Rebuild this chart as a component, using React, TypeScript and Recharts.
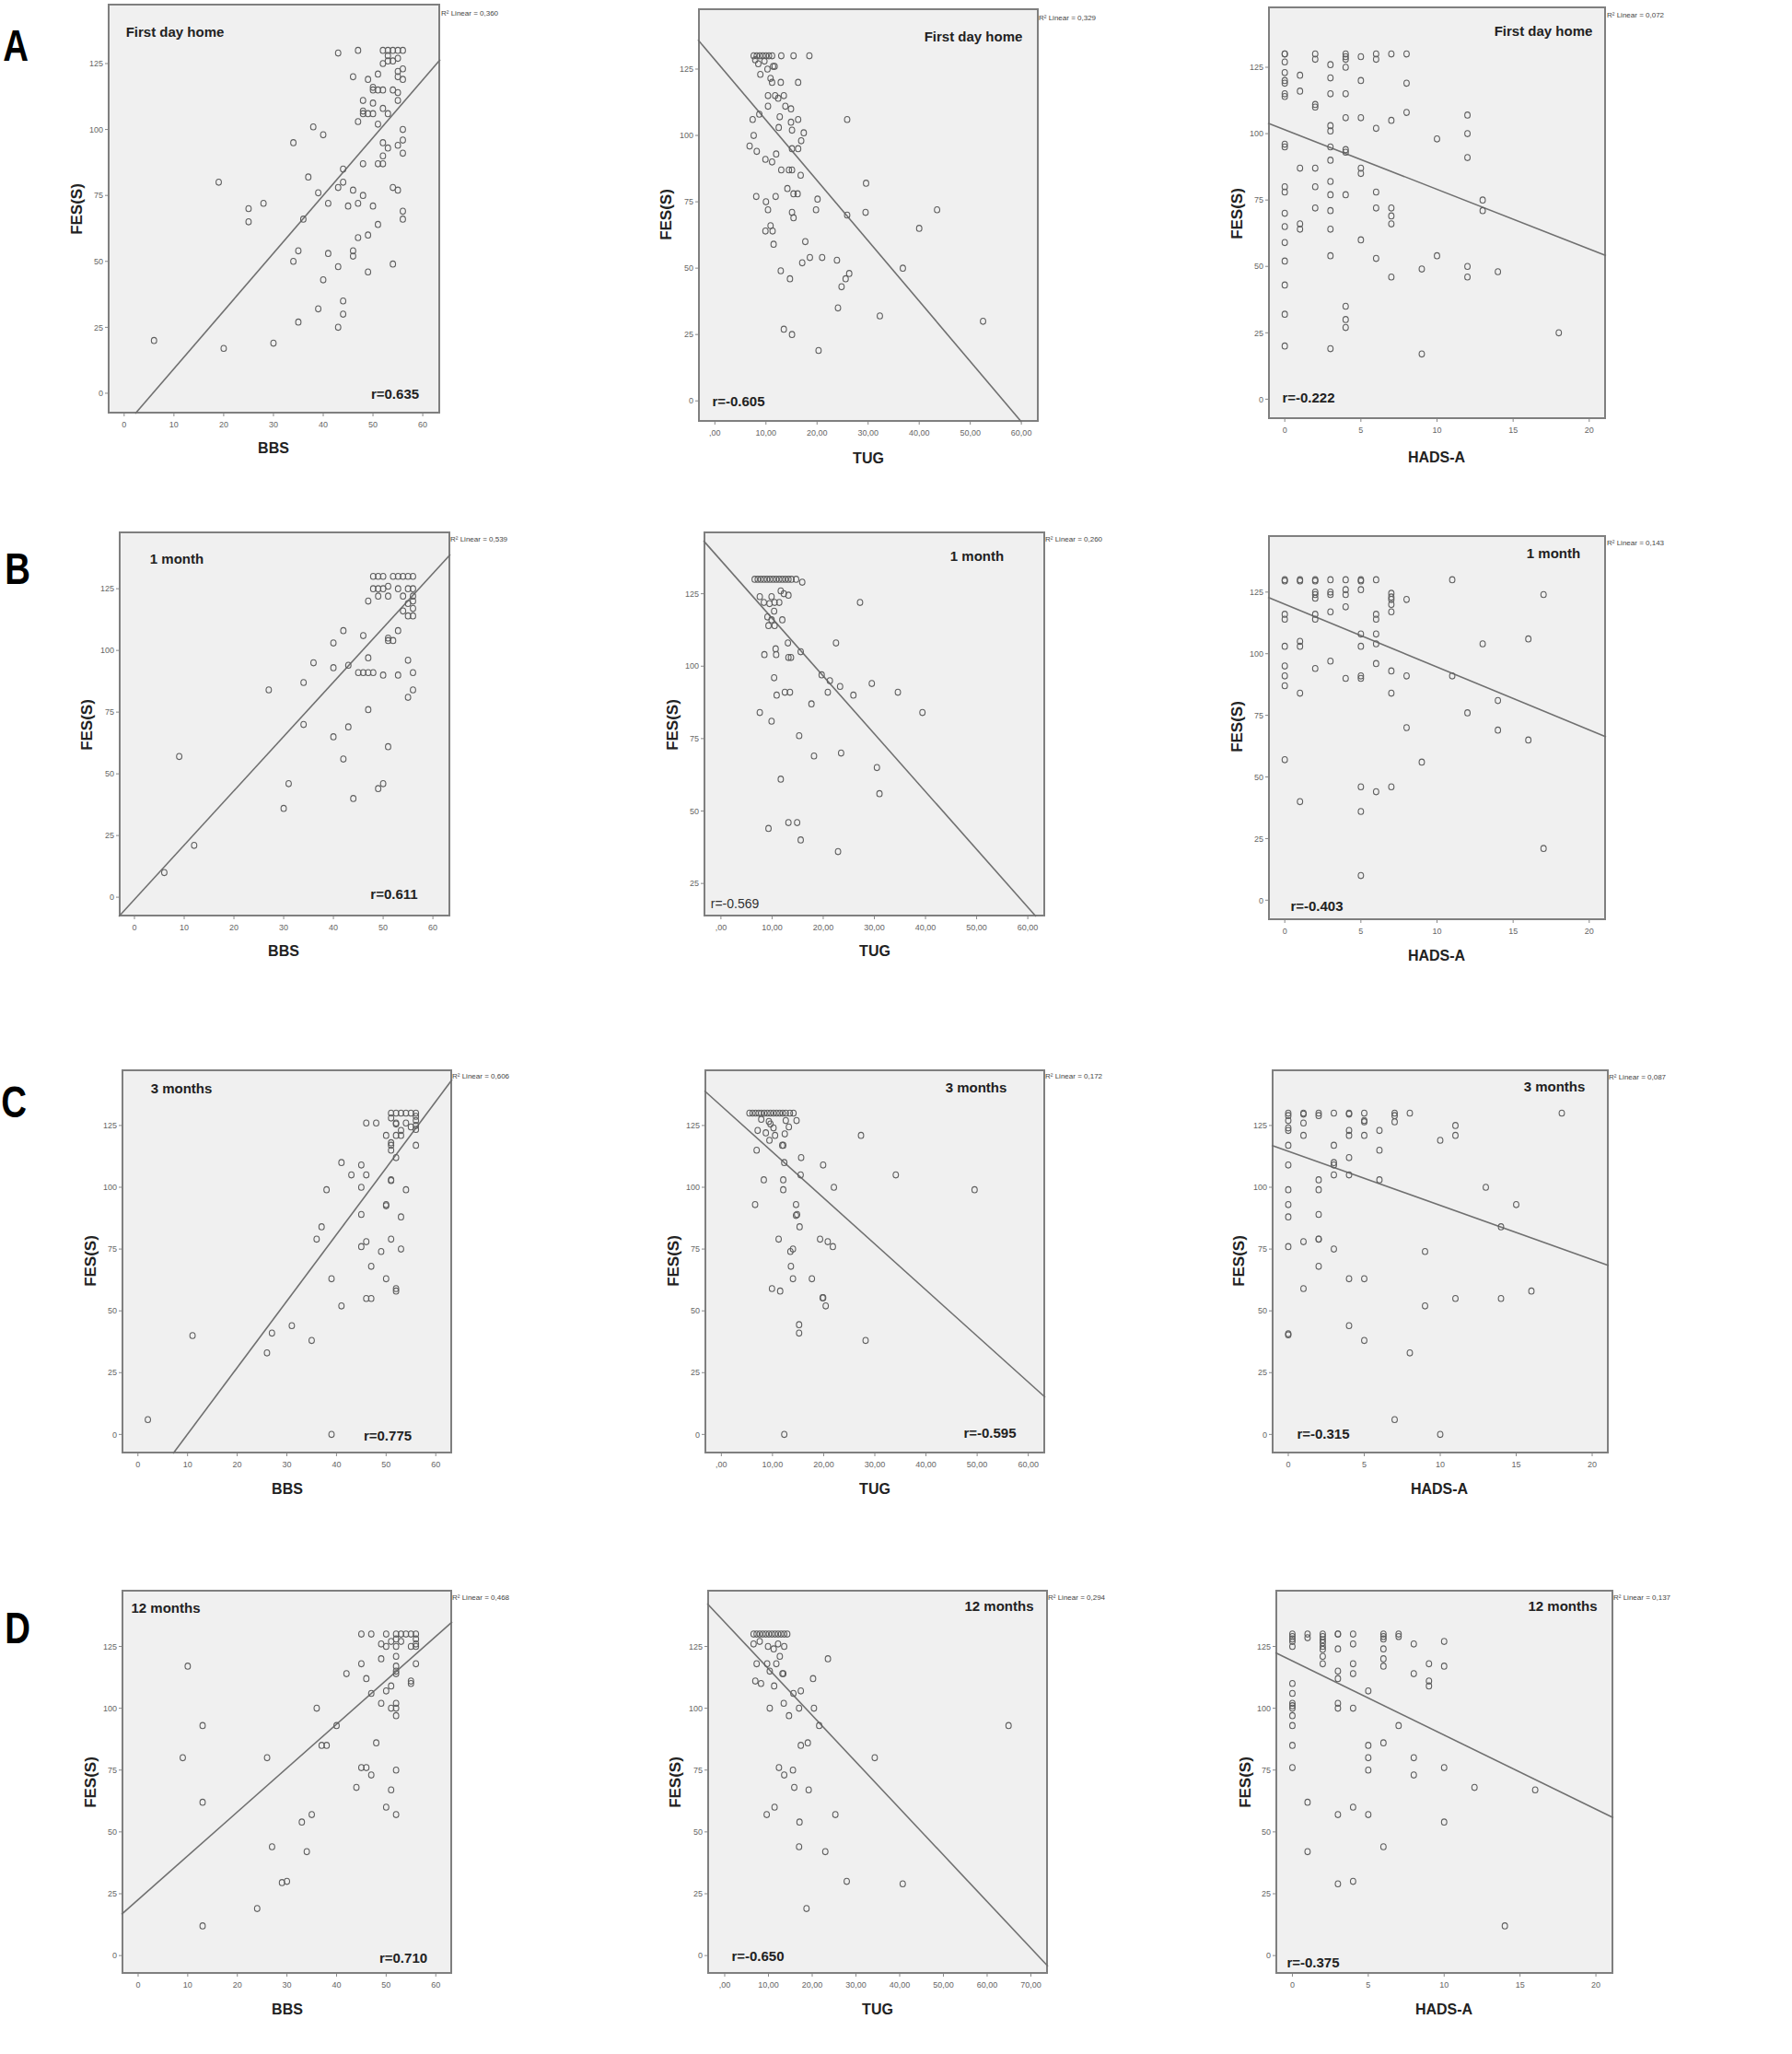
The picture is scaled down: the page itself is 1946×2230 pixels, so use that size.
import React from 'react'
import { ScatterChart, Scatter, XAxis, YAxis, ReferenceLine } from 'recharts'

type Pt = [number, number]
// points stacked at one integer score (HADS-A is an integer scale)
const col = (x: number, ys: number[]): Pt[] => ys.map(y => [x, y] as Pt)

const timepoints = ['First day home', '1 month', '3 months', '12 months']
const rowLetters = ['A', 'B', 'C', 'D']
const measures = ['BBS', 'TUG', 'HADS-A']

const rValues = [
  'r=0.635', 'r=-0.605', 'r=-0.222',
  'r=0.611', 'r=-0.569', 'r=-0.403',
  'r=0.775', 'r=-0.595', 'r=-0.315',
  'r=0.710', 'r=-0.650', 'r=-0.375',
]
const r2Values = [
  '0,360', '0,329', '0,072',
  '0,539', '0,260', '0,143',
  '0,606', '0,172', '0,087',
  '0,468', '0,294', '0,137',
]
// fitted line FES(S) = a + b * x
const fitIntercept = [-12.6, 128.5, 101.5, -0.9, 136.5, 120.1, -26.8, 132.9, 114.6, 22.6, 134.8, 119.1]
const fitSlope = [2.19, -2.273, -2.248, 2.201, -1.995, -2.55, 2.692, -1.862, -2.196, 1.774, -1.883, -2.995]

const fesTicks = [0, 25, 50, 75, 100, 125]
const fesTicksNoZero = [25, 50, 75, 100, 125]
const bbsTicks = [0, 10, 20, 30, 40, 50, 60]
const tugTicks = [0, 10, 20, 30, 40, 50, 60]
const tugTicksLong = [0, 10, 20, 30, 40, 50, 60, 70]
const hadsTicks = [0, 5, 10, 15, 20]

const bbsFirstDay: Pt[] = [
  [6, 20], [19, 80], [20, 17], [25, 70], [25, 65], [28, 72], [30, 19], [34, 95], [34, 50], [35, 54], [35, 27],
  [36, 66], [37, 82], [38, 101], [39, 76], [39, 32], [40, 98], [40, 43], [41, 72], [41, 53], [43, 129], [43, 78],
  [43, 48], [43, 25], [44, 85], [44, 80], [44, 35], [44, 30], [45, 71], [46, 120], [46, 77], [46, 54], [46, 52],
  [47, 130], [47, 103], [47, 72], [47, 59], [48, 111], [48, 107], [48, 106], [48, 87], [48, 75], [49, 119],
  [49, 106], [49, 60], [49, 46], [50, 116], [50, 115], [50, 110], [50, 106], [50, 71], [51, 121], [51, 115],
  [51, 102], [51, 87], [51, 64], [52, 130], [52, 125], [52, 115], [52, 108], [52, 95], [52, 90], [52, 87],
  [53, 130], [53, 128], [53, 126], [53, 106], [53, 93], [54, 130], [54, 126], [54, 115], [54, 78], [54, 49],
  [55, 130], [55, 127], [55, 122], [55, 120], [55, 114], [55, 111], [55, 94], [55, 77], [56, 130], [56, 123],
  [56, 119], [56, 100], [56, 96], [56, 91], [56, 69], [56, 66],
]
const tugFirstDay: Pt[] = [
  [7.6, 130], [8.2, 130], [8.8, 130], [9.4, 130], [10, 130], [10.6, 130], [11.2, 130], [13, 130], [15.4, 130],
  [18.5, 130], [7.9, 128.5], [8.5, 127], [9.7, 128], [11.4, 126], [11.7, 126], [8.9, 123], [10.3, 125],
  [10.9, 121.5], [11.2, 120], [12.9, 120], [16.3, 120], [10.4, 115], [11.8, 115], [13.5, 115], [12.4, 114],
  [10.4, 111], [13.8, 111], [14.9, 110], [8.7, 108], [7.4, 106], [12.7, 107], [16.3, 106], [25.9, 106],
  [14.9, 105], [12.5, 103], [15.1, 102], [17.4, 101], [7.6, 100], [16.9, 98], [6.8, 96], [15.1, 95], [16.3, 95],
  [8.2, 94], [12, 93], [9.9, 91], [11.2, 90], [13, 87], [14.5, 87], [15.1, 87], [16.8, 85], [29.6, 82],
  [14.2, 80], [15.4, 78], [16.2, 78], [8.1, 77], [11.9, 77], [20.1, 76], [10, 75], [10.4, 72], [19.8, 72],
  [43.5, 72], [15.1, 71], [29.5, 71], [25.9, 70], [15.4, 69], [10.9, 66], [9.9, 64], [11.3, 64], [40, 65],
  [11.5, 59], [17.7, 60], [18.6, 54], [21, 54], [23.9, 53], [17.1, 52], [12.9, 49], [36.8, 50], [26.3, 48],
  [25.6, 46], [14.7, 46], [24.8, 43], [24.1, 35], [32.3, 32], [52.5, 30], [13.5, 27], [15.1, 25], [20.3, 19],
]
const hadsFirstDay: Pt[] = [
  ...col(0, [130, 130, 127, 123, 120, 119, 115, 114, 96, 95, 80, 78, 70, 65, 59, 52, 43, 32, 20]),
  ...col(1, [122, 116, 87, 66, 64]),
  ...col(2, [130, 128, 111, 110, 87, 80, 72]),
  ...col(3, [126, 121, 115, 103, 101, 95, 90, 82, 77, 71, 64, 54, 19]),
  ...col(4, [130, 129, 128, 125, 115, 106, 94, 93, 77, 35, 30, 27]),
  ...col(5, [129, 120, 106, 87, 85, 60]),
  ...col(6, [130, 128, 102, 78, 72, 53]),
  ...col(7, [130, 105, 72, 69, 66, 46]),
  ...col(8, [130, 119, 108]),
  ...col(9, [49, 17]),
  ...col(10, [98, 54]),
  ...col(12, [107, 100, 91, 50, 46]),
  ...col(13, [75, 71]),
  ...col(14, [48]),
  ...col(18, [25]),
]

const bbsOneMonth: Pt[] = [
  [6, 10], [9, 57], [12, 21], [27, 84], [30, 36], [31, 46], [34, 87], [34, 70], [36, 95], [40, 103], [40, 93],
  [40, 65], [42, 108], [42, 56], [43, 94], [43, 69], [44, 40], [45, 91], [46, 91], [47, 91], [48, 91], [46, 106],
  [47, 97], [47, 120], [47, 76], [48, 130], [48, 125], [49, 130], [49, 125], [49, 122], [49, 44], [50, 130],
  [50, 125], [50, 90], [50, 46], [51, 126], [51, 122], [51, 105], [51, 104], [52, 104], [51, 61], [52, 130],
  [53, 130], [53, 125], [53, 108], [53, 90], [54, 130], [54, 122], [54, 116], [55, 130], [55, 125], [55, 119],
  [55, 114], [55, 96], [55, 81], [56, 130], [56, 125], [56, 122], [56, 120], [56, 117], [56, 114], [56, 91], [56, 84],
]
const tugOneMonth: Pt[] = [
  [6.6, 130], [7.2, 130], [7.8, 130], [8.4, 130], [9, 130], [9.6, 130], [10.2, 130], [10.8, 130], [11.4, 130],
  [12, 130], [12.6, 130], [13.2, 130], [13.8, 130], [14.7, 130], [15.9, 129], [7.6, 124], [9.9, 124], [8.4, 122],
  [9.5, 121.6], [10.5, 122], [11.4, 122], [11.7, 126], [12.3, 125], [13.2, 124.5], [10.4, 119], [9.1, 117],
  [9.9, 116], [12, 116], [9.3, 114], [10.5, 114], [13.1, 108], [22.5, 108], [10.7, 106], [10.8, 104], [8.5, 104],
  [13.2, 103], [13.7, 103], [15.6, 105], [10.4, 96], [19.7, 97], [21.3, 95], [23.3, 93], [29.5, 94], [12.5, 91],
  [13.5, 91], [20.9, 91], [34.6, 91], [10.9, 90], [25.9, 90], [17.7, 87], [7.6, 84], [39.4, 84], [9.9, 81],
  [15.3, 76], [27.2, 122], [18.2, 69], [23.5, 70], [30.5, 65], [31, 56], [11.7, 61], [13.2, 46], [14.9, 46],
  [9.3, 44], [15.6, 40], [22.9, 36],
]
const hadsOneMonth: Pt[] = [
  ...col(0, [130, 129.5, 116, 114, 103, 95, 91, 87, 57]),
  ...col(1, [130, 129.5, 105, 103, 84, 40]),
  ...col(2, [130, 129.5, 125, 124, 122.5, 116, 114, 94]),
  ...col(3, [130, 125, 124, 117, 97]),
  ...col(4, [130, 126, 124, 119, 90]),
  ...col(5, [130, 129.5, 126, 108, 103, 91, 90, 46, 36, 10]),
  ...col(6, [130, 116, 114, 108, 104, 96, 44]),
  ...col(7, [124.5, 123, 122, 120, 117, 93, 84, 46]),
  ...col(8, [122, 91, 70]),
  ...col(9, [56]),
  ...col(11, [130, 91]),
  ...col(12, [76]),
  ...col(13, [104]),
  ...col(14, [81, 69]),
  ...col(16, [106, 65]),
  ...col(17, [124, 21]),
]

const bbsThreeMonths: Pt[] = [
  [2, 6], [11, 40], [26, 33], [27, 41], [31, 44], [35, 38], [36, 79], [37, 84], [38, 99], [39, 63], [39, 0],
  [41, 110], [41, 52], [43, 105], [45, 109], [45, 100], [45, 89], [45, 76], [46, 126], [46, 105], [46, 78],
  [46, 55], [47, 55], [47, 68], [48, 126], [49, 74], [50, 121], [50, 93], [50, 92.5], [50, 63], [51, 130],
  [51, 128], [51, 118], [51, 117], [51, 115], [51, 103], [51, 102.7], [51, 79], [52, 130], [52, 126], [52, 125.6],
  [52, 121], [52, 112], [52, 59], [52, 58], [53, 130], [53, 123], [53, 121], [53, 88], [53, 75], [54, 130],
  [54, 126], [54, 99], [55, 130], [55, 124.4], [56, 130], [56, 128.7], [56, 127], [56, 125], [56, 123.4], [56, 117],
]
const tugThreeMonths: Pt[] = [
  [5.5, 130], [6.1, 130], [6.7, 130], [7.3, 130], [7.8, 130], [8.4, 130], [9, 130], [9.6, 130], [10.2, 130],
  [10.8, 130], [11.4, 130], [12, 130], [12.6, 130], [13.4, 130], [14.1, 130], [7.8, 127.5], [9.3, 126.6],
  [9.6, 125.6], [10.2, 124], [7.1, 123], [8.7, 122], [9.4, 119], [10.5, 121], [12.6, 127], [13.2, 124.4],
  [12.4, 121.6], [14.7, 127], [11.9, 117], [12.1, 117], [6.9, 115], [12.3, 110], [15.6, 112], [15.5, 105],
  [19.9, 109], [27.3, 121], [34.1, 105], [8.3, 103], [12.1, 103], [12.1, 99], [22, 100], [49.5, 99], [6.6, 93],
  [14.6, 93], [14.6, 88.6], [14.8, 89], [15.3, 84], [11.2, 79], [19.3, 79], [20.8, 78], [21.8, 76], [14, 75],
  [13.5, 74], [13.6, 68], [14, 63], [17.7, 63], [9.9, 59], [11.5, 58], [19.8, 55.3], [19.9, 55.3], [20.4, 52],
  [15.2, 44.4], [15.2, 41], [28.2, 38], [12.3, 0],
]
const hadsThreeMonths: Pt[] = [
  ...col(0, [130, 129, 127, 124, 123, 117, 109, 99, 93, 88, 76, 40.7, 40.3]),
  ...col(1, [130, 129.6, 126, 121, 78, 59]),
  ...col(2, [130, 129, 103, 99, 89, 79, 79, 68]),
  ...col(3, [130, 117, 110, 109, 105, 75]),
  ...col(4, [130, 129.6, 123, 121, 112, 105, 63, 44]),
  ...col(5, [130, 127, 126.5, 121, 63, 38]),
  ...col(6, [123, 115, 103]),
  ...col(7, [130, 129, 126.5, 6]),
  ...col(8, [130, 33]),
  ...col(9, [74, 52]),
  ...col(10, [119, 0]),
  ...col(11, [125, 121, 55]),
  ...col(13, [100]),
  ...col(14, [84, 55]),
  ...col(15, [93]),
  ...col(16, [58]),
  ...col(18, [130]),
]

const bbsTwelveMonths: Pt[] = [
  [9, 80], [10, 117], [13, 93], [13, 62], [13, 12], [24, 19], [26, 80], [27, 44], [29, 29.5], [30, 30], [33, 54],
  [34, 42], [35, 57], [36, 100], [37, 85], [38, 85], [40, 93], [42, 114], [44, 68], [45, 130], [45, 118], [45, 76],
  [46, 76], [46, 112], [47, 130], [47, 106], [47, 73], [48, 86], [49, 126], [50, 125], [49, 120], [49, 102],
  [50, 130], [50, 107], [50, 60], [51, 127], [51, 109], [51, 100], [51, 67], [52, 130], [52, 128], [52, 125],
  [52, 121], [52, 117], [52, 115], [52, 114], [52, 102], [52, 100], [52, 97], [52, 75], [52, 57], [53, 130],
  [53, 127], [54, 130], [55, 130], [55, 125], [55, 111], [55, 110], [56, 130], [56, 128], [56, 126], [56, 125], [56, 118],
]
const tugTwelveMonths: Pt[] = [
  [6.6, 130], [7.3, 130], [8, 130], [8.7, 130], [9.4, 130], [10.1, 130], [10.8, 130], [11.5, 130], [12.2, 130],
  [12.9, 130], [13.6, 130], [14.3, 130], [6.6, 126], [8, 127], [9.9, 125], [11.2, 124], [12.2, 126], [13.6, 125],
  [12.6, 121], [7.3, 118], [9.7, 118], [11.8, 118], [10.3, 115], [13.2, 114], [13.4, 114], [7, 111], [8.3, 110],
  [11.3, 109], [15.7, 106], [17.4, 107], [20.2, 112], [23.6, 120], [10.3, 100], [13.5, 102], [14.7, 97], [17, 100],
  [20.4, 100], [21.6, 93], [64.9, 93], [17.4, 85], [19, 86], [34.3, 80], [12.4, 76], [15.6, 75], [13.6, 73],
  [15.9, 68], [19.2, 67], [11.4, 60], [9.6, 57], [25.3, 57], [17.1, 54], [17, 44], [23, 42], [27.9, 30],
  [40.7, 29], [18.7, 19],
]
const hadsTwelveMonths: Pt[] = [
  ...col(0, [130, 129, 128, 127, 125, 110, 106, 102, 101, 100, 97, 93, 85, 76]),
  ...col(1, [130, 128.5, 62, 42]),
  ...col(2, [130, 129, 127.7, 126.5, 125, 123.8, 121, 118]),
  ...col(3, [130, 130, 124, 115, 112, 102, 100, 57, 29]),
  ...col(4, [130, 126, 118, 114, 100, 60, 30]),
  ...col(5, [107, 85, 80, 75, 57]),
  ...col(6, [130, 129, 128, 124, 120, 117, 86, 44]),
  ...col(7, [130, 129, 93]),
  ...col(8, [126, 114, 80, 73]),
  ...col(9, [118, 111, 109]),
  ...col(10, [127, 117, 76, 54]),
  ...col(12, [68]),
  ...col(14, [12]),
  ...col(16, [67]),
]

const panelPoints = [
  bbsFirstDay, tugFirstDay, hadsFirstDay,
  bbsOneMonth, tugOneMonth, hadsOneMonth,
  bbsThreeMonths, tugThreeMonths, hadsThreeMonths,
  bbsTwelveMonths, tugTwelveMonths, hadsTwelveMonths,
]
const panelXTicks = [
  bbsTicks, tugTicks, hadsTicks,
  bbsTicks, tugTicks, hadsTicks,
  bbsTicks, tugTicks, hadsTicks,
  bbsTicks, tugTicksLong, hadsTicks,
]

// --- layout (page pixels) ---
type Layout = {
  x: number; y: number; w: number; h: number
  xd: [number, number]; yd: [number, number]
  fes: [number, number]; axis: [number, number]
  title: [number, number]; r: [number, number]; r2: [number, number]
}
const layout: Layout[] = [
  { x: 117, y: 4, w: 361, h: 445, xd: [-3.3, 63.5], yd: [-7.7, 147.7], fes: [83, 227], axis: [297, 487], title: [190, 34], r: [429, 427], r2: [479, 15] },
  { x: 758, y: 9, w: 370, h: 449, xd: [-3.3, 63.4], yd: [-7.9, 147.9], fes: [723, 233], axis: [943, 498], title: [1057, 39], r: [802, 435], r2: [1128, 20] },
  { x: 1377, y: 7, w: 367, h: 448, xd: [-1.1, 21.1], yd: [-7.5, 147.9], fes: [1343, 232], axis: [1560, 497], title: [1676, 33], r: [1421, 431], r2: [1745, 17] },
  { x: 129, y: 577, w: 360, h: 418, xd: [-3.15, 63.5], yd: [-7.8, 148.2], fes: [94, 787], axis: [308, 1033], title: [192, 606], r: [428, 970], r2: [489, 586] },
  { x: 764, y: 577, w: 371, h: 418, xd: [-3.4, 63.4], yd: [13.6, 146.5], fes: [730, 787], axis: [950, 1033], title: [1061, 603], r: [798, 981], r2: [1135, 586] },
  { x: 1377, y: 581, w: 367, h: 418, xd: [-1.1, 21.1], yd: [-8.1, 148.1], fes: [1343, 789], axis: [1560, 1038], title: [1687, 600], r: [1430, 983], r2: [1745, 590] },
  { x: 132, y: 1161, w: 359, h: 417, xd: [-3.3, 63.3], yd: [-7.7, 147.7], fes: [98, 1369], axis: [312, 1617], title: [197, 1181], r: [421, 1558], r2: [491, 1169] },
  { x: 765, y: 1161, w: 370, h: 417, xd: [-3.3, 63.3], yd: [-7.7, 147.7], fes: [731, 1369], axis: [950, 1617], title: [1060, 1180], r: [1075, 1555], r2: [1135, 1169] },
  { x: 1381, y: 1161, w: 366, h: 417, xd: [-1.09, 21.09], yd: [-7.7, 147.7], fes: [1345, 1369], axis: [1563, 1617], title: [1688, 1179], r: [1437, 1556], r2: [1747, 1170] },
  { x: 132, y: 1726, w: 359, h: 417, xd: [-3.34, 63.3], yd: [-7.4, 147.9], fes: [98, 1935], axis: [312, 2182], title: [180, 1745], r: [438, 2125], r2: [491, 1735] },
  { x: 768, y: 1726, w: 370, h: 417, xd: [-4, 73.9], yd: [-7.4, 147.9], fes: [733, 1935], axis: [953, 2182], title: [1085, 1743], r: [823, 2123], r2: [1138, 1735] },
  { x: 1385, y: 1726, w: 367, h: 417, xd: [-1.12, 21.15], yd: [-7.4, 147.9], fes: [1352, 1935], axis: [1568, 2182], title: [1697, 1743], r: [1426, 2130], r2: [1752, 1735] },
]
const letterPos: [number, number][] = [[17, 50], [19, 618], [15, 1197], [19, 1768]]

const FONT = '"Liberation Sans", Arial, Helvetica, sans-serif'
const ML = 60, MT = 10, MR = 10, XH = 40

const tugFmt = (v: number) => (v === 0 ? ',00' : v.toFixed(2).replace('.', ','))

// clip y = a + b*x to the plotted window
function fitSegment(a: number, b: number, xd: [number, number], yd: [number, number]) {
  const pts: { x: number; y: number }[] = []
  for (const x of xd) {
    const y = a + b * x
    if (y >= yd[0] - 1e-9 && y <= yd[1] + 1e-9) pts.push({ x, y })
  }
  for (const y of yd) {
    const x = (y - a) / b
    if (x > xd[0] && x < xd[1]) pts.push({ x, y })
  }
  return pts.slice(0, 2)
}

const Ring = (props: any) => (
  <ellipse cx={props.cx} cy={props.cy} rx={2.9} ry={3.3} fill="none" stroke="#5e5e5e" strokeWidth={1.1} />
)

function Txt({ at, children, style, rotate }: { at: [number, number]; children: React.ReactNode; style?: React.CSSProperties; rotate?: boolean }) {
  return (
    <div style={{
      position: 'absolute', left: at[0], top: at[1], whiteSpace: 'nowrap', lineHeight: 1,
      transform: `translate(-50%, -50%)${rotate ? ' rotate(-90deg)' : ''}`, fontFamily: FONT, ...style,
    }}>{children}</div>
  )
}

function Panel({ i }: { i: number }) {
  const p = layout[i]
  const row = Math.floor(i / 3)
  const c = i % 3
  const data = panelPoints[i].map(([x, y]) => ({ x, y }))
  const seg = fitSegment(fitIntercept[i], fitSlope[i], p.xd, p.yd)
  const yTicks = i === 4 ? fesTicksNoZero : fesTicks
  const tickStyle = { fontSize: 9, fill: '#666', fontFamily: FONT }
  return (
    <>
      <div style={{ position: 'absolute', left: p.x, top: p.y, width: p.w, height: p.h, background: '#f0f0f0', border: '2px solid #7f7f7f', boxSizing: 'border-box' }} />
      <div style={{ position: 'absolute', left: p.x - ML, top: p.y - MT }}>
        <ScatterChart width={p.w + ML + MR} height={p.h + MT + XH} margin={{ top: MT, right: MR, bottom: 0, left: 0 }}>
          <XAxis type="number" dataKey="x" domain={p.xd} allowDataOverflow ticks={panelXTicks[i]}
            tickFormatter={c === 1 ? tugFmt : undefined} height={XH} axisLine={false}
            tickLine={{ stroke: '#888' }} tickSize={3} tickMargin={6} tick={tickStyle} interval={0} />
          <YAxis type="number" dataKey="y" domain={p.yd} allowDataOverflow ticks={yTicks} width={ML}
            axisLine={false} tickLine={{ stroke: '#888' }} tickSize={3} tickMargin={2} tick={tickStyle} interval={0} />
          <ReferenceLine segment={seg} stroke="#707070" strokeWidth={1.6} ifOverflow="visible" />
          <Scatter data={data} shape={Ring} isAnimationActive={false} />
        </ScatterChart>
      </div>
      <Txt at={p.title} style={{ fontSize: 15, fontWeight: 700, color: '#222' }}>{timepoints[row]}</Txt>
      <Txt at={p.r} style={i === 4 ? { fontSize: 14, color: '#333' } : { fontSize: 15, fontWeight: 700, color: '#222' }}>{rValues[i]}</Txt>
      <Txt at={p.fes} rotate style={{ fontSize: 17, fontWeight: 700, color: '#222' }}>FES(S)</Txt>
      <Txt at={p.axis} style={{ fontSize: 16, fontWeight: 700, color: '#222' }}>{measures[c]}</Txt>
      <div style={{ position: 'absolute', left: p.r2[0], top: p.r2[1], transform: 'translateY(-50%)', fontSize: 8, lineHeight: 1, color: '#444', fontFamily: FONT, whiteSpace: 'nowrap' }}>
        R² Linear = {r2Values[i]}
      </div>
    </>
  )
}

export default function App() {
  return (
    <div style={{ position: 'absolute', left: 0, top: 0, width: 1946, height: 2230, background: '#fff', overflow: 'hidden' }}>
      {layout.map((_, i) => <Panel key={i} i={i} />)}
      {rowLetters.map((l, k) => (
        <Txt key={l} at={letterPos[k]} style={{ fontSize: 48, fontWeight: 700, color: '#000' }}>
          <span style={{ display: 'inline-block', transform: 'scaleX(0.8)' }}>{l}</span>
        </Txt>
      ))}
    </div>
  )
}
